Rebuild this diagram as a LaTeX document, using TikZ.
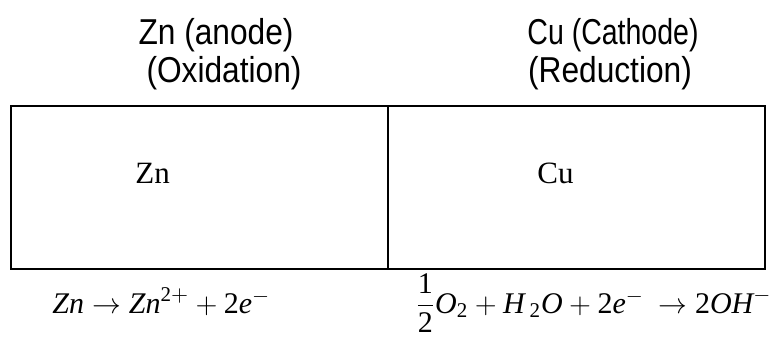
\documentclass[tikz,border=0pt]{standalone}
\usepackage{amsmath}
\usepackage{fontspec}
\setmainfont{Liberation Serif}
\newfontfamily\polefont{Liberation Sans}
\usepackage{tikz}
\usetikzlibrary{positioning}
\definecolor{cellink}{HTML}{000000}
\newcommand{\dg}[1]{\mathrm{#1}}
\tikzset{
  cell/.style={draw=cellink, line width=1pt, minimum width=188.5pt, minimum height=81.5pt,
    inner sep=0pt, outer sep=0pt},
  polelabel/.style={font=\polefont\fontsize{18}{21}\selectfont, text=cellink, anchor=base, xscale=0.88, inner sep=0pt},
  metal/.style={font=\fontsize{15.5}{18}\selectfont, text=cellink, anchor=base west, inner sep=0pt},
  halfeq/.style={font=\fontsize{15}{18}\selectfont, text=cellink, anchor=base west, inner sep=0pt}
}

\begin{document}
\begin{tikzpicture}[x=0.5pt, y=-0.5pt]
\useasboundingbox (0,0) rectangle (776,338);
\node[cell] (anode) at (199.5,187.5) {};
\node[cell, right=0pt of anode] (cathode) {};
\node[polelabel] (znlab) at (216,44) {Zn (anode)};
\node[polelabel] (oxlab) at (224,82) {(Oxidation)};
\node[polelabel, xscale=0.9] (culab) at (613,44) {Cu (Cathode)};
\node[polelabel] (redlab) at (610,82) {(Reduction)};
\node[metal] (zn) at (135,183) {Zn};
\node[metal] (cu) at (537,183) {Cu};
\clip (0,0) rectangle (776,338);
\node[halfeq] (oxeq) at (52,313)
  {$\mathit{Zn}\rightarrow\mathit{Zn}^{\dg{2}+}+\dg{2}\mathit{e}^{-}$};
\node[halfeq] (redeq) at (415,313)
  {$\dfrac{\dg{1}}{\dg{2}}\mathit{O}_{\dg{2}}+\mathit{H}_{\mkern4mu\dg{2}}\mathit{O}+\dg{2}\mathit{e}^{-}\mkern4mu\rightarrow\dg{2}\mathit{OH}^{-}$};
\end{tikzpicture}
\end{document}
